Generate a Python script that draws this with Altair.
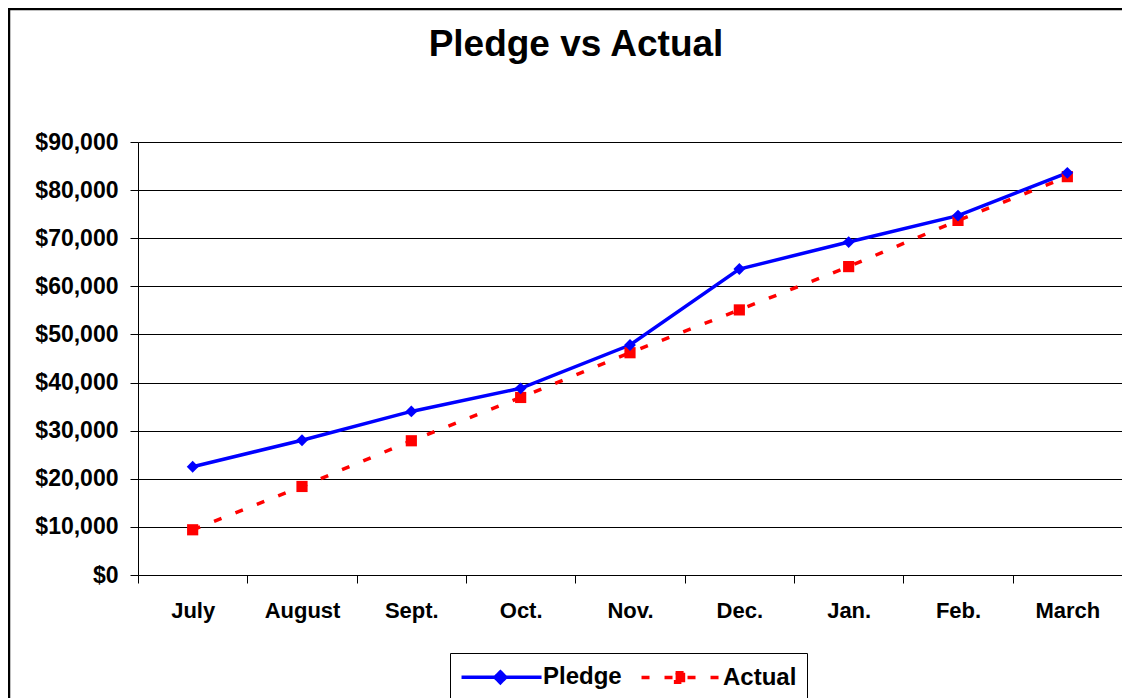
import altair as alt
import pandas as pd

months = ["July", "August", "Sept.", "Oct.", "Nov.", "Dec.", "Jan.", "Feb.", "March"]
pledge = [22500, 28000, 34000, 38800, 47800, 63600, 69200, 74700, 83600]
actual = [9400, 18400, 27900, 36900, 46200, 55100, 64100, 73700, 82800]
series = ["Pledge", "Actual"]
colors = ["#0000FF", "#FF0000"]
y_ticks = [0, 10000, 20000, 30000, 40000, 50000, 60000, 70000, 80000, 90000]

rows = []
for m, p, a in zip(months, pledge, actual):
    rows.append({"month": m, "series": "Pledge", "value": p})
    rows.append({"month": m, "series": "Actual", "value": a})
df = pd.DataFrame(rows)

W, H = 984, 433
FONT = "Liberation Sans"

# legend symbols: line with a marker in the middle
pledge_sym = "M-1.04,0H5.63M2.2,-0.45L2.65,0L2.2,0.45L1.75,0Z"
actual_sym = "M-1.04,0H5.63M1.8,-0.4H2.6V0.4H1.8Z"

x = alt.X(
    "month:N", sort=months, bandPosition=0.5,
    scale=alt.Scale(type="band", domain=months, paddingInner=0, paddingOuter=0),
    axis=alt.Axis(title=None, labelAngle=0, tickBand="extent", grid=False,
                  tickSize=8, tickColor="black", domainColor="black",
                  labelFont=FONT, labelFontSize=22, labelFontWeight="bold",
                  labelColor="black", labelPadding=17),
)
y = alt.Y(
    "value:Q",
    scale=alt.Scale(domain=[0, 90000], nice=False),
    axis=alt.Axis(title=None, values=y_ticks, format="$,.0f", grid=True,
                  gridColor="black", gridWidth=1, tickSize=8, tickColor="black",
                  domainColor="black", labelFont=FONT, labelFontSize=23,
                  labelFontWeight="bold", labelColor="black", labelPadding=12),
)

base = alt.Chart(df).encode(x=x, y=y)
pl = base.transform_filter(alt.datum.series == "Pledge")
al = base.transform_filter(alt.datum.series == "Actual")

l1 = pl.mark_line(color=colors[0], strokeWidth=3.5)
l2 = al.mark_line(color=colors[1], strokeWidth=3.5, strokeDash=[8, 15])
p1 = pl.mark_point(shape="diamond", filled=True, color=colors[0], size=140, opacity=1)
p2 = al.mark_point(shape="square", filled=True, color=colors[1], size=125, opacity=1)

LEG = alt.Legend(
    title=None, orient="none", legendX=312, legendY=511, direction="horizontal",
    symbolSize=576, symbolStrokeWidth=3.5, labelOffset=55, columnPadding=12,
    padding=10, strokeColor="black", fillColor="white",
    labelFont=FONT, labelFontSize=24, labelFontWeight="bold", labelColor="black",
)
leg = base.transform_filter("false").mark_point(opacity=1, strokeWidth=3).encode(
    fill=alt.Fill("series:N", scale=alt.Scale(domain=series, range=colors), legend=LEG),
    stroke=alt.Stroke("series:N", scale=alt.Scale(domain=series, range=colors), legend=LEG),
    shape=alt.Shape("series:N", scale=alt.Scale(domain=series, range=[pledge_sym, actual_sym]), legend=LEG),
    strokeDash=alt.StrokeDash("series:N", scale=alt.Scale(domain=series, range=[[1, 0], [8, 15]]), legend=LEG),
)

frame = alt.Chart(pd.DataFrame({"a": [0]})).mark_rect(
    fillOpacity=0, stroke="black", strokeWidth=2.5
).encode(x=alt.value(-129), x2=alt.value(W + 60), y=alt.value(-133), y2=alt.value(H + 200))

chart = alt.layer(frame, l2, l1, p2, p1, leg).properties(
    width=W, height=H,
    autosize=alt.AutoSizeParams(type="none"),
    padding={"left": 130, "top": 134, "right": 0, "bottom": 123},
    title=alt.TitleParams("Pledge vs Actual", font=FONT, fontSize=37, fontWeight="bold",
                          color="black", anchor="middle", dx=-54, offset=0, dy=85,
                          baseline="alphabetic"),
).configure_view(strokeWidth=0)

chart.save("out.html", embed_options={"renderer": "svg", "actions": False})
